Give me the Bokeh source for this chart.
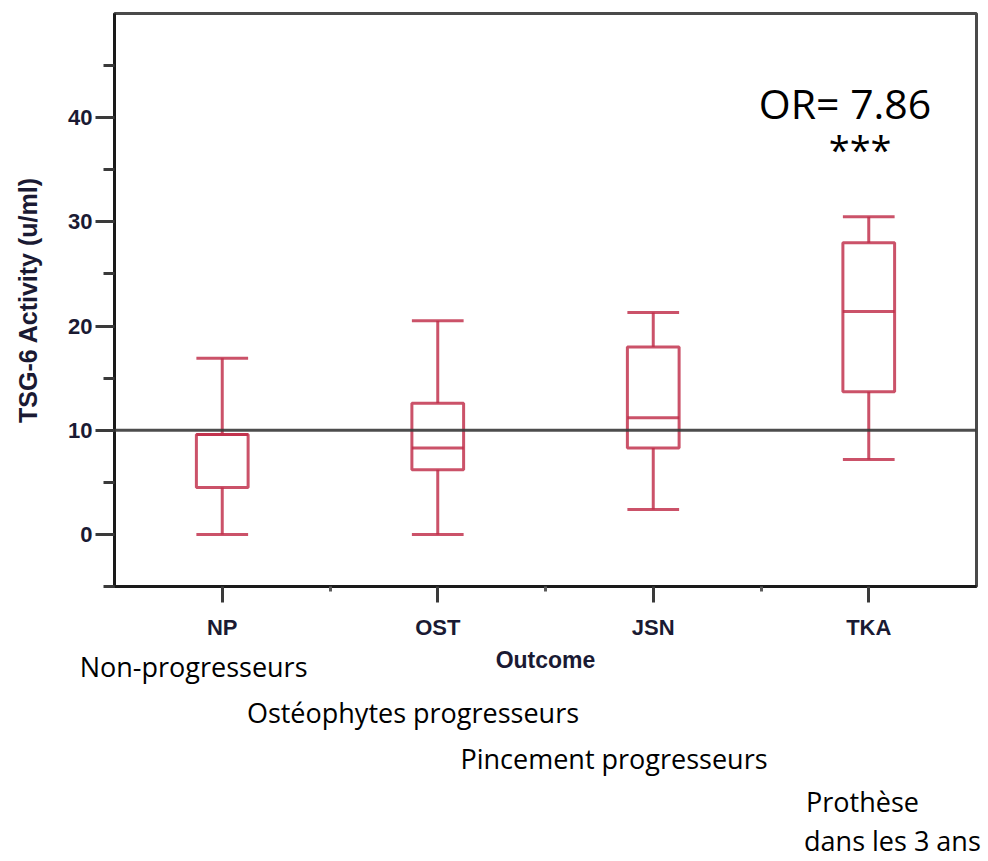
from bokeh.plotting import figure
from bokeh.models import ColumnDataSource, FixedTicker, Span, Label, LinearAxis
from bokeh.embed import file_html
from bokeh.resources import INLINE

# ---- data ----
categories = ["NP", "OST", "JSN", "TKA"]
lower_whisker = [0.0, 0.0, 2.4, 7.2]
q1 = [4.5, 6.2, 8.3, 13.7]
median = [9.6, 8.3, 11.2, 21.4]
q3 = [9.6, 12.6, 18.0, 28.0]
upper_whisker = [16.9, 20.5, 21.3, 30.5]
reference_level = 10
y_ticks = [0, 10, 20, 30, 40]
y_minor = [-5, 5, 15, 25, 35, 45]
or_text = "OR= 7.86"
signif_text = "***"
french_labels = ["Non-progresseurs", "Ostéophytes progresseurs",
                 "Pincement progresseurs", "Prothèse", "dans les 3 ans"]
french_label_pos = [0.867, 1.885, 2.818, 3.971, 4.11]

pos = list(range(1, len(categories) + 1))
half = 0.12
src = ColumnDataSource(dict(
    x=pos,
    left=[p_ - half for p_ in pos],
    right=[p_ + half for p_ in pos],
    lw=lower_whisker, q1=q1, med=median, q3=q3, uw=upper_whisker,
))

W, H = 984, 861
p = figure(width=W, height=H, output_backend="svg", toolbar_location=None,
           x_range=(0.5, 4.5), y_range=(-5, 50),
           min_border_left=114, min_border_right=8, min_border_top=13,
           min_border_bottom=0)
p.xgrid.visible = False
p.ygrid.visible = False
p.outline_line_color = "#4a4a4a"
p.outline_line_width = 3
p.background_fill_color = "white"
p.border_fill_color = "white"

BOX = "#c02c48"
ALPHA = 0.82
LW = 3

# reference line
p.add_layout(Span(location=reference_level, dimension="width",
                  line_color="#3a3a3a", line_width=3, line_alpha=0.9))

# whiskers
p.segment(x0="x", y0="q3", x1="x", y1="uw", source=src,
          line_color=BOX, line_width=LW, line_alpha=ALPHA)
p.segment(x0="x", y0="lw", x1="x", y1="q1", source=src,
          line_color=BOX, line_width=LW, line_alpha=ALPHA)
# caps
p.segment(x0="left", y0="uw", x1="right", y1="uw", source=src,
          line_color=BOX, line_width=LW, line_alpha=ALPHA)
p.segment(x0="left", y0="lw", x1="right", y1="lw", source=src,
          line_color=BOX, line_width=LW, line_alpha=ALPHA)
# boxes
p.quad(left="left", right="right", bottom="q1", top="q3", source=src,
       fill_color=None, line_color=BOX, line_width=LW, line_alpha=ALPHA)
# medians
p.segment(x0="left", y0="med", x1="right", y1="med", source=src,
          line_color=BOX, line_width=LW, line_alpha=ALPHA)

TICK_FONT = "Liberation Sans"
TXT = "#1a1a33"

# y axis
ya = p.yaxis[0]
ya.ticker = FixedTicker(ticks=y_ticks, minor_ticks=y_minor)
ya.axis_label = "TSG-6 Activity (u/ml)"
ya.axis_label_text_font = TICK_FONT
ya.axis_label_text_font_style = "bold"
ya.axis_label_text_font_size = "25px"
ya.axis_label_text_color = TXT
ya.axis_label_standoff = 23
ya.major_label_text_font = TICK_FONT
ya.major_label_text_font_style = "bold"
ya.major_label_text_font_size = "22px"
ya.major_label_text_color = TXT
ya.major_label_standoff = 3
ya.axis_line_color = "#1a1a1a"
ya.axis_line_width = 3
ya.major_tick_in = 0
ya.major_tick_out = 19
ya.major_tick_line_width = 3
ya.major_tick_line_color = "#3a3a3a"
ya.minor_tick_in = 0
ya.minor_tick_out = 11
ya.minor_tick_line_width = 3
ya.minor_tick_line_color = "#3a3a3a"

# x axis
xa = p.xaxis[0]
xa.ticker = FixedTicker(ticks=pos, minor_ticks=[1.5, 2.5, 3.5])
xa.major_label_overrides = {i + 1: c for i, c in enumerate(categories)}
xa.axis_label = "Outcome"
xa.axis_label_text_font = TICK_FONT
xa.axis_label_text_font_style = "bold"
xa.axis_label_text_font_size = "23px"
xa.axis_label_text_color = TXT
xa.axis_label_standoff = 4
xa.major_label_text_font = TICK_FONT
xa.major_label_text_font_style = "bold"
xa.major_label_text_font_size = "22px"
xa.major_label_text_color = TXT
xa.major_label_standoff = 12
xa.axis_line_color = "#1a1a1a"
xa.axis_line_width = 3
xa.major_tick_in = 0
xa.major_tick_out = 16
xa.major_tick_line_width = 3
xa.major_tick_line_color = "#3a3a3a"
xa.minor_tick_in = 0
xa.minor_tick_out = 5
xa.minor_tick_line_width = 3
xa.minor_tick_line_color = "#5a5a5a"

# annotations inside plot
FR = "Open Sans"
p.add_layout(Label(x=3.89, y=41.4, text=or_text, text_font=FR,
                   text_font_size="41px", text_color="black",
                   text_align="center", text_baseline="middle"))
p.add_layout(Label(x=3.96, y=37.0, text=signif_text, text_font=FR,
                   text_font_size="38px", text_color="black",
                   text_align="center", text_baseline="middle"))

# French explanatory labels below the chart, as label-only axes
standoffs = [-28, 6, 6, 3, -1]
for t, xx, so in zip(french_labels, french_label_pos, standoffs):
    ax = LinearAxis(ticker=FixedTicker(ticks=[xx], minor_ticks=[]),
                    major_label_overrides={xx: t})
    ax.axis_line_color = None
    ax.major_tick_line_color = None
    ax.minor_tick_line_color = None
    ax.major_tick_in = 0
    ax.major_tick_out = 0
    ax.minor_tick_in = 0
    ax.minor_tick_out = 0
    ax.major_label_standoff = so
    ax.major_label_text_font = FR
    ax.major_label_text_font_size = "27px"
    ax.major_label_text_color = "black"
    p.add_layout(ax, "below")

open("out.html", "w").write(file_html(p, INLINE))
